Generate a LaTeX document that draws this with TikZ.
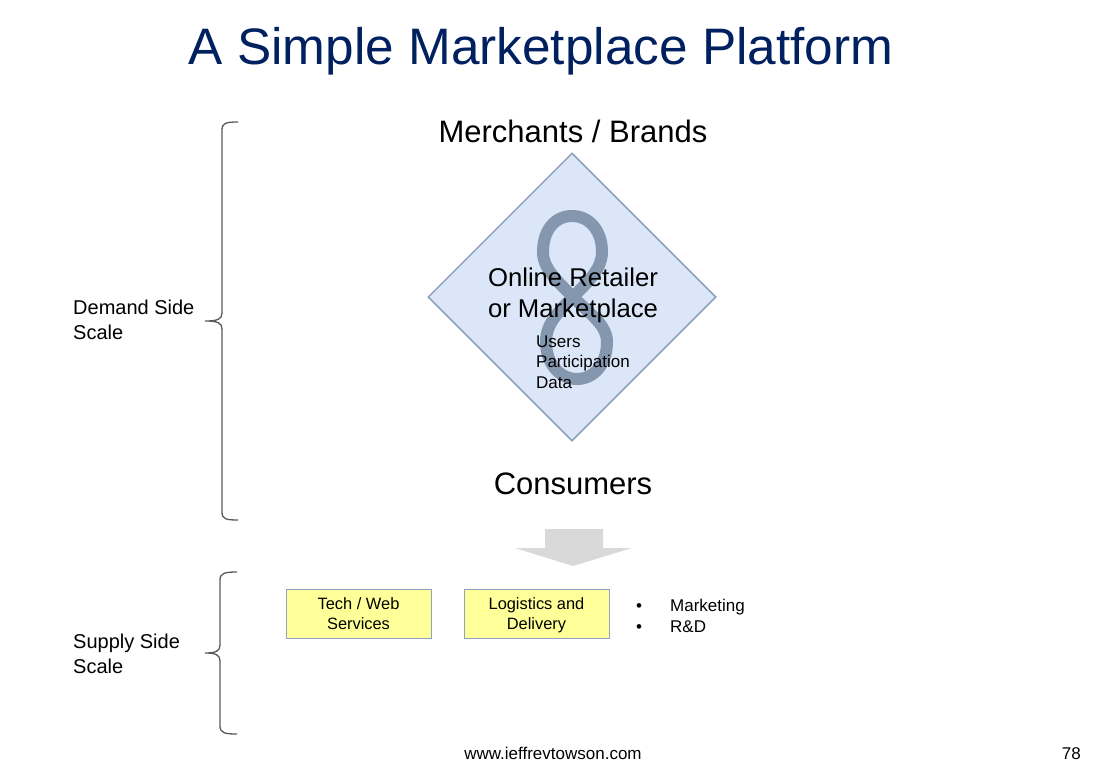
\documentclass[tikz,border=0pt]{standalone}
\usepackage{fontspec}
\setmainfont{Liberation Sans}
\usetikzlibrary{positioning,shapes.geometric}

\definecolor{titleblue}{HTML}{002060}
\definecolor{hubfill}{HTML}{DBE7F8}
\definecolor{hubline}{HTML}{8EA2BC}
\definecolor{loopgray}{HTML}{8597AE}
\definecolor{boxyellow}{HTML}{FFFF99}
\definecolor{arrowgray}{HTML}{D9D9D9}
\definecolor{bracegray}{HTML}{595959}

\newcommand{\boxstrut}{\rule[-4.2pt]{0pt}{20pt}}

\begin{document}
\begin{tikzpicture}[x=1pt,y=-1pt,
	titletext/.style={anchor=base,inner sep=0pt,text=titleblue,font=\fontsize{51.3}{61}\selectfont},
	bigtext/.style={anchor=base,inner sep=0pt,font=\fontsize{31}{37}\selectfont},
	midtext/.style={inner sep=0pt,align=center,font=\fontsize{25.7}{31}\selectfont},
	smalltext/.style={inner sep=0pt,align=left,font=\fontsize{17}{20.5}\selectfont},
	sidetext/.style={anchor=west,inner sep=0pt,align=left,font=\fontsize{20}{25}\selectfont},
	foottext/.style={anchor=base,inner sep=0pt,font=\fontsize{17}{20}\selectfont},
	hub/.style={diamond,draw=hubline,line width=1.5pt,fill=hubfill,inner sep=0pt,minimum width=288pt,minimum height=288pt},
	costbox/.style={rectangle,draw=hubline,line width=1pt,fill=boxyellow,inner sep=0pt,minimum width=145pt,minimum height=49pt,align=center,font=\fontsize{16.4}{20}\selectfont},
	bracestroke/.style={draw=bracegray,line width=1.3pt},
	loopline/.style={draw=loopgray,line width=12pt}]
	\useasboundingbox (0,0) rectangle (1098,761);

	\node[titletext]										(title)		at (541,64)	{A Simple Marketplace Platform};
	\node[bigtext]											(merchants)	at (573,142)	{Merchants / Brands};
	\node[hub]												(hub)		at (572,297)	{};

	% figure eight inside the platform
	\draw[loopline] (573,297) .. controls (590,280) and (602,268) .. (602,252)
		.. controls (602,230) and (589,216) .. (572,216)
		.. controls (555,216) and (543,230) .. (543,252)
		.. controls (543,268) and (556,280) .. (573,297)
		.. controls (590,314) and (607,325) .. (607,342)
		.. controls (607,364) and (594,379) .. (577,379)
		.. controls (560,379) and (546,364) .. (546,342)
		.. controls (546,325) and (556,314) .. cycle;

	\node[midtext]											(retailer)	at (573,295)	{Online Retailer\\or Marketplace};
	\node[smalltext,anchor=west]							(drivers)	at (536,362)	{Users\\Participation\\Data};
	\node[bigtext]											(consumers)	at (573,494)	{Consumers};

	% block arrow down to the supply side
	\fill[arrowgray] (545,529) -- (603,529) -- (603,548) -- (632,548) -- (573,566) -- (515,548) -- (545,548) -- cycle;

	\node[costbox]											(tech)		at (358.5,613.5)	{Tech / Web\boxstrut\\Services\boxstrut};
	\node[costbox,node distance=32pt,right=of tech]			(logistics)	{Logistics and\boxstrut\\Delivery\boxstrut};
	\node[smalltext,anchor=west]							(others)	at (636,616)	{\makebox[34pt][l]{\textbullet}Marketing\\\makebox[34pt][l]{\textbullet}R\&D};

	% braces
	\draw[bracestroke] (238,122) .. controls (226,122) and (222,123) .. (222,130) -- (222,313)
		.. controls (222,319) and (218,321) .. (205,321) .. controls (218,321) and (222,323) .. (222,329)
		-- (222,512) .. controls (222,519) and (226,520) .. (238,520);
	\draw[bracestroke] (237,572) .. controls (225,572) and (220,573) .. (220,580) -- (220,645)
		.. controls (220,651) and (216,653) .. (205,653) .. controls (216,653) and (220,655) .. (220,661)
		-- (220,726) .. controls (220,733) and (225,734) .. (237,734);

	\node[sidetext]											(demand)	at (73,320)	{Demand Side\\Scale};
	\node[sidetext]											(supply)	at (73,654)	{Supply Side\\Scale};

	\node[foottext]											(url)		at (553,759.5)	{www.ieffrevtowson.com};
	\node[foottext,anchor=base east]						(page)		at (1081,759.5)	{78};
\end{tikzpicture}
\end{document}
